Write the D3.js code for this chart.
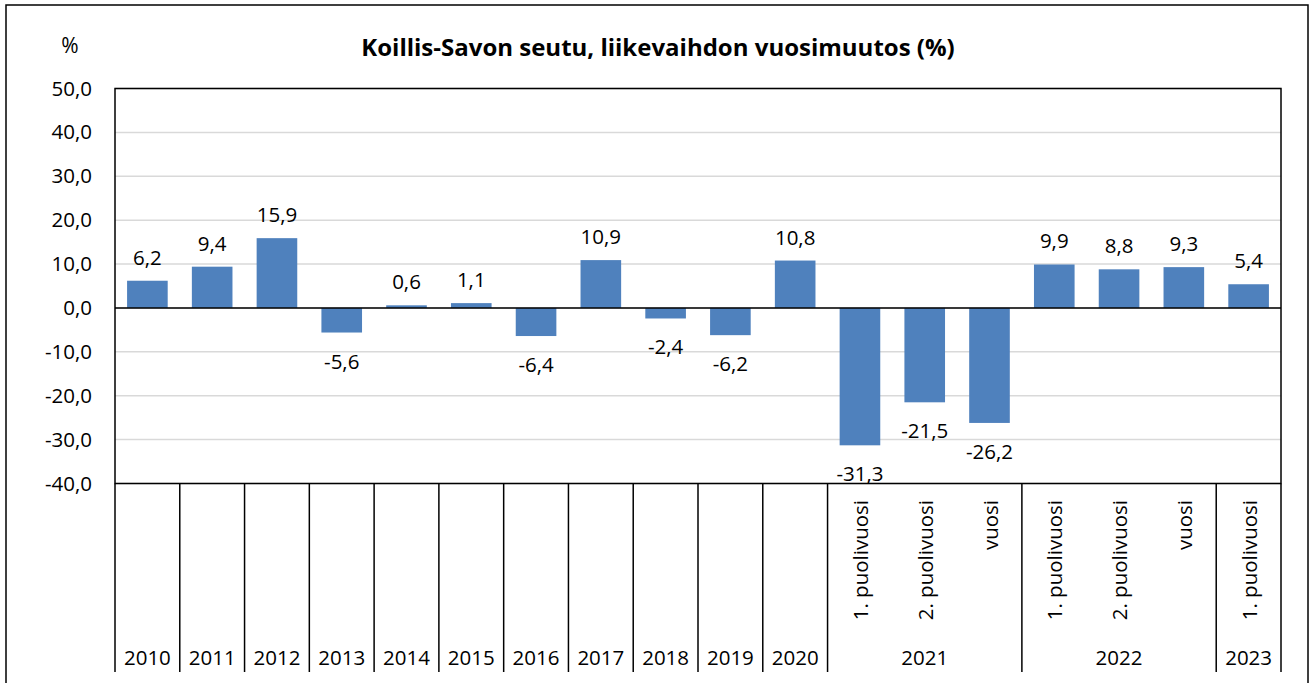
<!DOCTYPE html>
<html>
<head>
<meta charset="utf-8">
<script src="https://cdn.jsdelivr.net/npm/d3@7"></script>
<style>
    body { margin: 0; background: #fff; }
    text { font-family: "Open Sans", "Noto Sans", sans-serif; fill: #000; }
</style>
</head>
<body>
<svg id="chart" width="1314" height="683"></svg>
<script>
// chart data
const years = ["2010", "2011", "2012", "2013", "2014", "2015", "2016", "2017", "2018", "2019", "2020",
               "2021", "2021", "2021", "2022", "2022", "2022", "2023"]
const periods = ["", "", "", "", "", "", "", "", "", "", "",
                 "1. puolivuosi", "2. puolivuosi", "vuosi",
                 "1. puolivuosi", "2. puolivuosi", "vuosi",
                 "1. puolivuosi"]
const values = [6.2, 9.4, 15.9, -5.6, 0.6, 1.1, -6.4, 10.9, -2.4, -6.2, 10.8,
                -31.3, -21.5, -26.2, 9.9, 8.8, 9.3, 5.4]
const yTicks = [50, 40, 30, 20, 10, 0, -10, -20, -30, -40]

const title = "Koillis-Savon seutu, liikevaihdon vuosimuutos (%)"
const unit = "%"

const fmt = v => v.toFixed(1).replace(".", ",")
const labelSize = "20.5px"

const svg = d3.select("#chart")
const plot = {left: 115, right: 1281, top: 88.5, bottom: 483.5}
const axisBottom = 672

const x = d3.scaleBand()
    .domain(d3.range(values.length))
    .range([plot.left, plot.right])
    .paddingInner(0.373)
    .paddingOuter(0.373 / 2)

const y = d3.scaleLinear()
    .domain([-40, 50])
    .range([plot.bottom, plot.top])

// outer frame
svg.append("rect")
   .attr("x", 6).attr("y", 5)
   .attr("width", 1302).attr("height", 700)
   .attr("fill", "none")
   .attr("stroke", "#000")
   .attr("stroke-width", 1.5)

// title and unit
svg.append("text")
   .attr("x", 658).attr("y", 46)
   .attr("text-anchor", "middle")
   .attr("dominant-baseline", "central")
   .style("font-size", "24px")
   .style("font-weight", "bold")
   .text(title)

svg.append("text")
   .attr("x", 70).attr("y", 45)
   .attr("text-anchor", "middle")
   .attr("dominant-baseline", "central")
   .style("font-size", "21px")
   .text(unit)

// gridlines
svg.append("g")
   .selectAll("line")
   .data(yTicks)
   .enter()
   .append("line")
   .attr("x1", plot.left).attr("x2", plot.right)
   .attr("y1", d => y(d)).attr("y2", d => y(d))
   .attr("stroke", "#d9d9d9")
   .attr("stroke-width", 1.5)

// y axis labels
svg.append("g")
   .attr("transform", "translate(" + plot.left + ",0)")
   .call(d3.axisLeft(y).tickValues(yTicks).tickSize(0).tickPadding(23).tickFormat(fmt))
   .call(g => g.select(".domain").remove())
   .selectAll("text")
   .style("font-family", "\"Open Sans\", sans-serif")
   .style("font-size", labelSize)
   .attr("fill", "#000")

// bars
svg.append("g")
   .selectAll("rect")
   .data(values)
   .enter()
   .append("rect")
   .attr("x", (d, i) => x(i))
   .attr("width", x.bandwidth())
   .attr("y", d => y(Math.max(0, d)))
   .attr("height", d => Math.abs(y(d) - y(0)))
   .attr("fill", "#4f81bd")

// value labels
svg.append("g")
   .selectAll("text")
   .data(values)
   .enter()
   .append("text")
   .attr("x", (d, i) => x(i) + x.bandwidth() / 2)
   .attr("y", d => d >= 0 ? y(d) - 24 : y(d) + 28)
   .attr("text-anchor", "middle")
   .attr("dominant-baseline", "central")
   .style("font-size", labelSize)
   .text(fmt)

// zero line and plot border
svg.append("line")
   .attr("x1", plot.left).attr("x2", plot.right)
   .attr("y1", y(0)).attr("y2", y(0))
   .attr("stroke", "#000")
   .attr("stroke-width", 1.5)

svg.append("rect")
   .attr("x", plot.left).attr("y", plot.top)
   .attr("width", plot.right - plot.left)
   .attr("height", plot.bottom - plot.top)
   .attr("fill", "none")
   .attr("stroke", "#000")
   .attr("stroke-width", 1.5)

// category axis: group years
let groups = []
years.forEach((yr, i) => {
    let last = groups[groups.length - 1]
    if (last && last.year === yr) {
        last.end = i
    } else {
        groups.push({year: yr, start: i, end: i})
    }
})

const step = x.step()
const edge = i => plot.left + i * step

let seps = groups.map(g => g.start).concat([values.length])
svg.append("g")
   .selectAll("line")
   .data(seps)
   .enter()
   .append("line")
   .attr("x1", edge).attr("x2", edge)
   .attr("y1", plot.bottom).attr("y2", axisBottom)
   .attr("stroke", "#000")
   .attr("stroke-width", 1.5)

svg.append("g")
   .selectAll("text")
   .data(groups)
   .enter()
   .append("text")
   .attr("x", g => (edge(g.start) + edge(g.end + 1)) / 2)
   .attr("y", 657)
   .attr("text-anchor", "middle")
   .attr("dominant-baseline", "central")
   .style("font-size", labelSize)
   .text(g => g.year)

// rotated period labels
svg.append("g")
   .selectAll("text")
   .data(periods.map((p, i) => ({p: p, i: i})).filter(d => d.p !== ""))
   .enter()
   .append("text")
   .attr("transform", d => "translate(" + (x(d.i) + x.bandwidth() / 2) + ",500) rotate(-90)")
   .attr("text-anchor", "end")
   .attr("dominant-baseline", "central")
   .style("font-size", labelSize)
   .text(d => d.p)
</script>
</body>
</html>
